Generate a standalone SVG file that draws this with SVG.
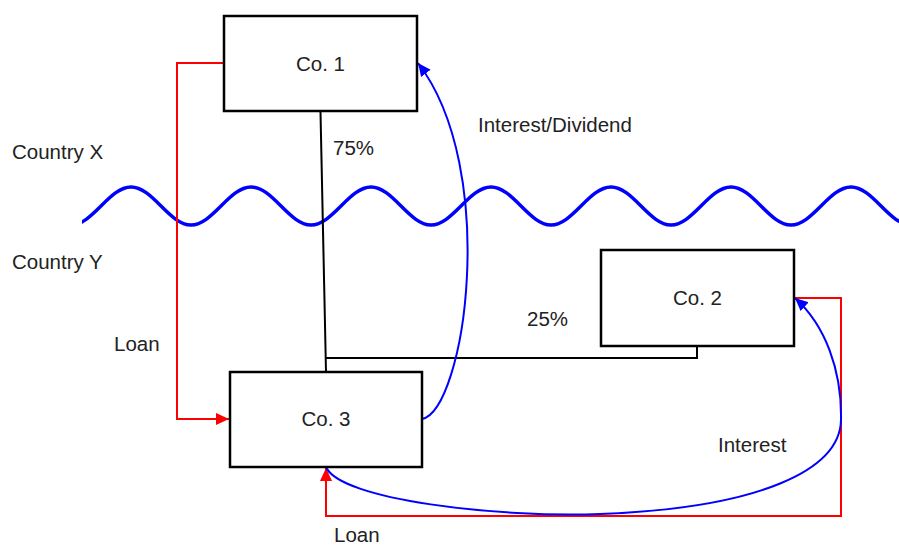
<svg xmlns="http://www.w3.org/2000/svg" width="899" height="546" viewBox="0 0 899 546">
<style>
.box{fill:#fff;stroke:#000;stroke-width:2.5}
.t{font-family:"Liberation Sans",Arial,sans-serif;font-size:20.5px;fill:#222}
.c{text-anchor:middle}
.red{fill:none;stroke:#ff0000;stroke-width:2}
.blue{fill:none;stroke:#0000ff;stroke-width:2}
.blk{fill:none;stroke:#000;stroke-width:2}
</style>
<defs>
<marker id="ar" markerUnits="userSpaceOnUse" markerWidth="14" markerHeight="14" viewBox="0 0 14 14" refX="13" refY="7" orient="auto"><path d="M0,1 L13,7 L0,13 Z" fill="#ff0000"/></marker>
<marker id="ab" markerUnits="userSpaceOnUse" markerWidth="14" markerHeight="14" viewBox="0 0 14 14" refX="13" refY="7" orient="auto"><path d="M0,1 L13,7 L0,13 Z" fill="#0000ff"/></marker>
<clipPath id="wc"><rect x="82" y="150" width="817" height="120"/></clipPath>
</defs>
<g id="wave" clip-path="url(#wc)">
<path d="M11,187 C32.8,187 49.2,225 71,225 S109.2,187 131,187 S169.2,225 191,225 S229.2,187 251,187 S289.2,225 311,225 S349.2,187 371,187 S409.2,225 431,225 S469.2,187 491,187 S529.2,225 551,225 S589.2,187 611,187 S649.2,225 671,225 S709.2,187 731,187 S769.2,225 791,225 S829.2,187 851,187 S889.2,225 911,225" fill="none" stroke="#0000ff" stroke-width="3.5"/>
</g>
<g id="connectors">
<path class="blk" d="M320.5,112 L326,372"/>
<path class="blk" d="M697,346 L697,358 L326,358"/>
<path class="red" d="M224,63 L177,63 L177,419 L229,419" marker-end="url(#ar)"/>
<path class="red" d="M794,298 L841,298 L841,516 L326,516 L326,468" marker-end="url(#ar)"/>
<path class="blue" d="M422,419 C465,410 500,170 418,63" marker-end="url(#ab)"/>
<path class="blue" d="M326,467 C340,500 500,518 600,514 C760,508 840,470 841,420 C842,370 825,325 795,298" marker-end="url(#ab)"/>
</g>
<g id="co1"><rect class="box" x="224" y="16" width="193" height="95"/><text class="t c" x="320.5" y="71">Co. 1</text></g>
<g id="co2"><rect class="box" x="601" y="250" width="193" height="96"/><text class="t c" x="697.5" y="305">Co. 2</text></g>
<g id="co3"><rect class="box" x="230" y="372" width="192" height="95"/><text class="t c" x="326" y="426">Co. 3</text></g>
<g id="labels">
<text class="t" x="12" y="159">Country X</text>
<text class="t" x="12" y="269">Country Y</text>
<text class="t" x="333" y="155">75%</text>
<text class="t" x="478" y="132">Interest/Dividend</text>
<text class="t" x="527" y="326">25%</text>
<text class="t" x="114" y="351">Loan</text>
<text class="t" x="718" y="452">Interest</text>
<text class="t" x="334" y="542">Loan</text>
</g>
</svg>
